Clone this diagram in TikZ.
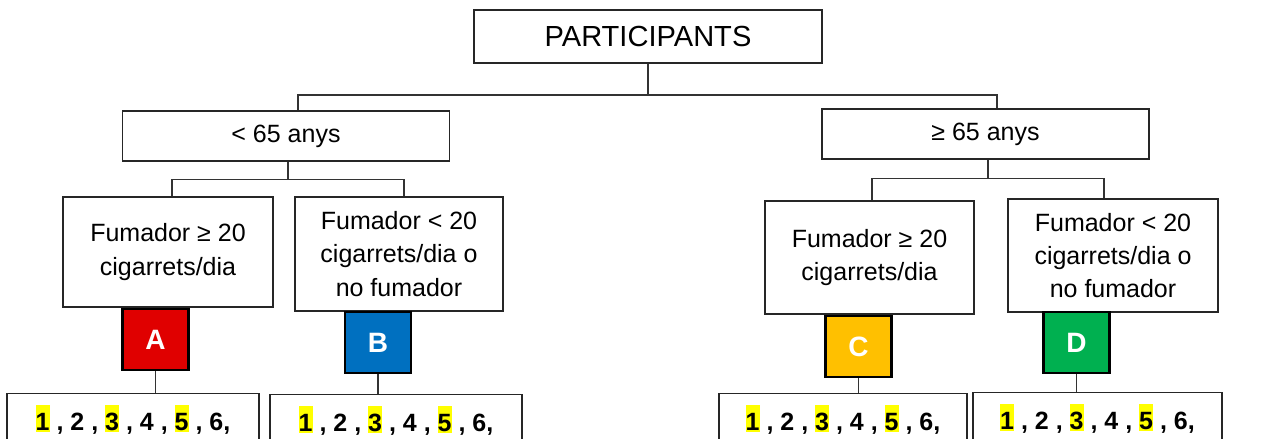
\documentclass[tikz,border=0pt]{standalone}
\usepackage{fontspec}
\setmainfont{Liberation Sans}
\usepackage{tikz}

\definecolor{grupA}{HTML}{E00000}
\definecolor{grupB}{HTML}{0070C0}
\definecolor{grupC}{HTML}{FFC000}
\definecolor{grupD}{HTML}{00B050}
\definecolor{marca}{HTML}{FFFF00}
\newcommand{\pxu}{0.75pt}
\newcommand{\marca}[1]{{\setlength{\fboxsep}{0pt}\colorbox{marca}{\rule[-1.1pt]{0pt}{20pt}#1}}}
\newcommand{\llistanum}{\marca{1} , 2 , \marca{3} , 4 , \marca{5} , 6,}

\tikzset{
    caixa/.style={draw=black!85,line width=0.9pt,align=center,inner sep=0pt,
        font=\fontsize{18.75}{25}\selectfont},
    grup/.style={draw=black,line width=1.9pt,inner sep=0pt,text=white,
        minimum width=66*\pxu,minimum height=61*\pxu,
        font=\fontsize{21}{24}\selectfont\bfseries},
    llista/.style={draw=black!85,line width=0.9pt,anchor=north,inner xsep=0pt,
        inner ysep=7.5pt,text height=20pt,text depth=40pt,
        font=\fontsize{18.75}{25}\selectfont\bfseries},
    link/.style={draw=black!80,line width=0.8pt}
}

\begin{document}
\begin{tikzpicture}[x=0.75pt,y=-0.75pt]
    \useasboundingbox (0,0) rectangle (1271,439);
    \clip (0,0) rectangle (1271,439);

    \node[caixa,minimum width=348*\pxu,minimum height=53*\pxu,
        font=\fontsize{21.8}{25}\selectfont] (part) at (648,36.5) {PARTICIPANTS};

    \node[caixa,minimum width=327*\pxu,minimum height=50*\pxu] (jove) at (286,136) {< 65 anys};
    \node[caixa,minimum width=327*\pxu,minimum height=50*\pxu] (gran) at (985.5,134) {≥ 65 anys};

    \node[caixa,minimum width=210*\pxu,minimum height=110*\pxu] (jA) at (168,252)
        {Fumador ≥ 20\\cigarrets/dia};
    \node[caixa,minimum width=208*\pxu,minimum height=114*\pxu] (jB) at (399,254)
        {Fumador < 20\\cigarrets/dia o\\no fumador};
    \node[caixa,minimum width=209*\pxu,minimum height=113*\pxu] (gC) at (869.5,257.5)
        {Fumador ≥ 20\\cigarrets/dia};
    \node[caixa,minimum width=210*\pxu,minimum height=113*\pxu] (gD) at (1113,255.5)
        {Fumador < 20\\cigarrets/dia o\\no fumador};

    \node[grup,fill=grupA] (sqA) at (155.5,339.5) {A};
    \node[grup,fill=grupB] (sqB) at (378,342.5) {B};
    \node[grup,fill=grupC] (sqC) at (858.5,346.5) {C};
    \node[grup,fill=grupD] (sqD) at (1076.5,342.5) {D};

    \node[llista,minimum width=252*\pxu] (lA) at (133,393) {\llistanum};
    \node[llista,minimum width=252*\pxu] (lB) at (396,394) {\llistanum};
    \node[llista,minimum width=248*\pxu] (lC) at (843,393) {\llistanum};
    \node[llista,minimum width=249*\pxu] (lD) at (1097.5,392) {\llistanum};

    % connectors
    \coordinate (barra) at (648,95);
    \draw[link] (part.south) -- (barra);
    \draw[link] (barra) -| ([shift={(12,0)}]jove.north);
    \draw[link] (barra) -| ([shift={(11.5,0)}]gran.north);

    \draw[link] ([shift={(2,0)}]jove.south) -- ++(0,18) coordinate (jbranca);
    \draw[link] (jbranca) -| ([shift={(4,0)}]jA.north);
    \draw[link] (jbranca) -| ([shift={(5,0)}]jB.north);
    \draw[link] ([shift={(2.5,0)}]gran.south) -- ++(0,19) coordinate (gbranca);
    \draw[link] (gbranca) -| ([shift={(2.5,0)}]gC.north);
    \draw[link] (gbranca) -| ([shift={(-9,0)}]gD.north);

    \foreach \g/\l in {sqA/lA,sqB/lB,sqC/lC,sqD/lD}{
        \draw[link] (\g.south) -- (\g.south |- \l.north);
    }
\end{tikzpicture}
\end{document}
